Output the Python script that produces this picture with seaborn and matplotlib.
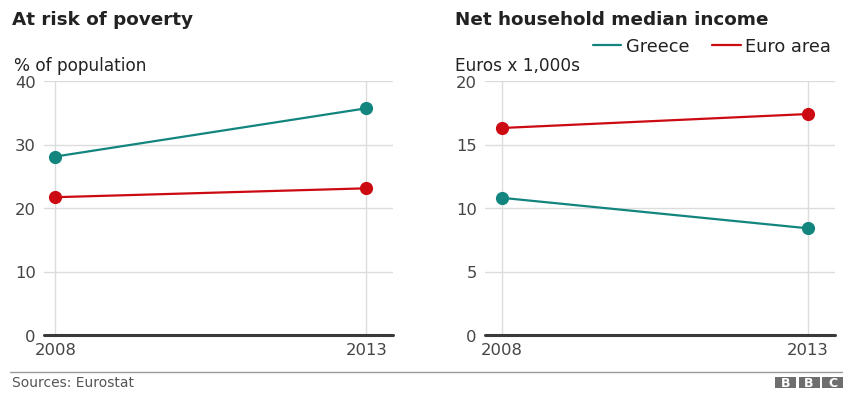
import matplotlib
matplotlib.use("Agg")
import matplotlib.pyplot as plt
import seaborn as sns
import pandas as pd
from matplotlib.lines import Line2D
from matplotlib.patches import Rectangle

# ---- data ----
years = [2008, 2013]
series = ["Greece", "Euro area"]
poverty_greece = [28.1, 35.7]
poverty_euro = [21.7, 23.1]
income_greece = [10.8, 8.4]
income_euro = [16.3, 17.4]
poverty_ticks = [0, 10, 20, 30, 40]
income_ticks = [0, 5, 10, 15, 20]

colors = {"Greece": "#13857f", "Euro area": "#cc0a12"}

def make_df(g, e):
    return pd.DataFrame({
        "year": years * 2,
        "value": g + e,
        "series": [series[0]] * len(years) + [series[1]] * len(years),
    })

df_pov = make_df(poverty_greece, poverty_euro)
df_inc = make_df(income_greece, income_euro)

sns.set_style("white")
plt.rcParams["font.family"] = ["DejaVu Sans"]

W, H = 843, 406
fig = plt.figure(figsize=(W / 100, H / 100), dpi=100)

def fx(px):
    return px / W

def fy(py):
    return 1 - py / H

bottom = fy(336)
height = fy(82) - fy(336)
ax1 = fig.add_axes([fx(44), bottom, fx(393) - fx(44), height])
ax2 = fig.add_axes([fx(485), bottom, fx(835) - fx(485), height])

TEXT = "#222222"
TICK = "#444444"

def style(ax, df, ticks, xlim):
    sns.lineplot(data=df, x="year", y="value", hue="series", palette=colors,
                 hue_order=series, marker="o", markersize=9.5, markeredgewidth=0,
                 linewidth=1.6, legend=False, ax=ax, zorder=3)
    ax.set_xlim(*xlim)
    ax.set_ylim(ticks[0], ticks[-1])
    ax.set_xticks(years)
    ax.set_yticks(ticks)
    ax.set_xticklabels([str(y) for y in years])
    ax.grid(True, color="#dcdcdc", linewidth=1, zorder=0)
    ax.set_axisbelow(True)
    for s in ax.spines.values():
        s.set_visible(False)
    ax.axhline(0, color="#3a3a3a", linewidth=2.2, clip_on=False, zorder=2)
    ax.tick_params(axis="both", length=0, labelsize=11.8, colors=TICK)
    ax.tick_params(axis="y", pad=6)
    ax.tick_params(axis="x", pad=5)
    ax.set_xlabel("")
    ax.set_ylabel("")
    ax.set_facecolor("white")

style(ax1, df_pov, poverty_ticks, (2007.82, 2013.43))
style(ax2, df_inc, income_ticks, (2007.72, 2013.44))

# titles
fig.text(fx(12), fy(20), "At risk of poverty", fontsize=13.2, fontweight="bold",
         color=TEXT, va="center", ha="left")
fig.text(fx(455), fy(20), "Net household median income", fontsize=13.2,
         fontweight="bold", color=TEXT, va="center", ha="left")
fig.text(fx(14), fy(66), "% of population", fontsize=12.2, color=TEXT,
         va="center", ha="left")
fig.text(fx(455), fy(66), "Euros x 1,000s", fontsize=12.2, color=TEXT,
         va="center", ha="left")

# legend
handles = [Line2D([0], [0], color=colors[s], linewidth=1.6) for s in series]
fig.legend(handles, series, loc="center right", bbox_to_anchor=(fx(831), fy(47)),
           ncol=2, frameon=False, fontsize=12.8, handlelength=1.6,
           handletextpad=0.25, columnspacing=1.3, labelcolor=TEXT,
           borderaxespad=0, borderpad=0)

# footer
fig.add_artist(Line2D([fx(10), 1], [fy(373), fy(373)], color="#9a9a9a",
                      linewidth=1, transform=fig.transFigure))
fig.text(fx(12), fy(383), "Sources: Eurostat", fontsize=10, color="#555555",
         va="center", ha="left")
for i, ch in enumerate(["B", "B", "C"]):
    x0 = 775 + i * 23.5
    fig.add_artist(Rectangle((fx(x0), fy(389)), fx(21), fy(378) - fy(389),
                             transform=fig.transFigure, facecolor="#6e6e6e",
                             edgecolor="none"))
    fig.text(fx(x0 + 10.5), fy(383.5), ch, fontsize=9, fontweight="bold",
             color="white", va="center", ha="center")

fig.savefig("out.png", dpi=100, facecolor="white")
